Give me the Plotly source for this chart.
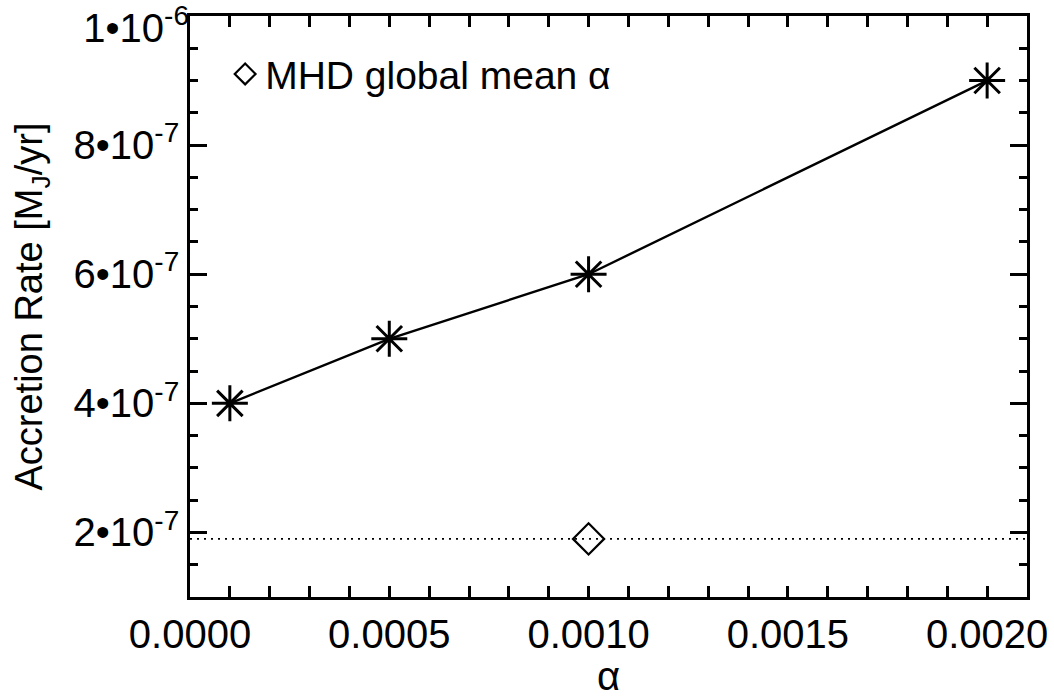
import plotly.graph_objects as go

# Accretion rate as a function of the viscosity parameter alpha
alpha_vals = [0.0001, 0.0005, 0.0010, 0.0020]
accretion_rate = [4.0e-7, 5.0e-7, 6.0e-7, 9.0e-7]

# MHD run: global mean alpha and its accretion rate
mhd_alpha = [0.0010]
mhd_rate = [1.9e-7]

y_tick_vals = [2e-7, 4e-7, 6e-7, 8e-7]
y_tick_text = ["2\u202210<sup>-7</sup>", "4\u202210<sup>-7</sup>", "6\u202210<sup>-7</sup>",
               "8\u202210<sup>-7</sup>"]
# top label sits at the upper frame edge and is nudged down to stay on the page
y_top_val = [1e-6]
y_top_text = ["1\u202210<sup>-6</sup>"]
x_tick_vals = [0.0000, 0.0005, 0.0010, 0.0015, 0.0020]
x_tick_text = ["0.0000", "0.0005", "0.0010", "0.0015", "0.0020"]

Y_RANGE = [1e-7, 1e-6]
FONT = "Liberation Sans, Arial, Helvetica, sans-serif"
BLACK = "black"

fig = go.Figure()

fig.add_trace(go.Scatter(
    x=alpha_vals, y=accretion_rate, mode="lines+markers",
    line=dict(color=BLACK, width=2.4),
    marker=dict(symbol="asterisk-open", size=30, color=BLACK,
                line=dict(color=BLACK, width=3)),
    showlegend=False,
))

# Horizontal dotted reference at the MHD accretion rate
fig.add_hline(y=mhd_rate[0], line=dict(color=BLACK, width=1.8, dash="2px,5px"))

# The MHD point lives on the overlaid twin y axis (identical range)
fig.add_trace(go.Scatter(
    x=mhd_alpha, y=mhd_rate, mode="markers", yaxis="y2",
    name="MHD global mean \u03b1",
    marker=dict(symbol="diamond-open", size=24, color=BLACK,
                line=dict(color=BLACK, width=2.2)),
    showlegend=True,
))

axis_common = dict(
    showline=True, linecolor=BLACK, linewidth=2.5, mirror="allticks",
    ticks="inside", tickcolor=BLACK, tickwidth=2.5,
    showgrid=False, zeroline=False,
    tickfont=dict(family=FONT, size=40, color=BLACK),
)

fig.update_layout(
    xaxis=dict(
        range=[0, 0.0021], tickvals=x_tick_vals, ticktext=x_tick_text, ticklen=11,
        minor=dict(dtick=0.0001, tick0=0, ticks="inside", ticklen=5, tickwidth=2.5,
                   tickcolor=BLACK, showgrid=False),
        title=dict(text="\u03b1", font=dict(family=FONT, size=40, color=BLACK), standoff=13),
        **axis_common,
    ),
    yaxis=dict(
        range=Y_RANGE, tickvals=y_tick_vals, ticktext=y_tick_text, ticklen=17,
        minor=dict(dtick=0.5e-7, tick0=0, ticks="inside", ticklen=8, tickwidth=2.5,
                   tickcolor=BLACK, showgrid=False),
        title=dict(text="Accretion Rate [M<sub>J</sub>/yr]",
                   font=dict(family=FONT, size=38, color=BLACK), standoff=20),
        **axis_common,
    ),
    yaxis2=dict(
        overlaying="y", anchor="x", side="left", range=Y_RANGE,
        tickvals=y_top_val, ticktext=y_top_text, ticks="",
        showline=False, showgrid=False, zeroline=False,
        ticklabelshift=12, ticklabeloverflow="allow", ticklabelstandoff=0,
        tickfont=dict(family=FONT, size=40, color=BLACK),
    ),
    width=1054, height=698,
    margin=dict(l=190, r=27, t=16, b=101, autoexpand=False),
    paper_bgcolor="white", plot_bgcolor="white",
    font=dict(family=FONT, size=38, color=BLACK),
    legend=dict(x=0.042, y=0.955, xanchor="left", yanchor="top",
                bgcolor="rgba(0,0,0,0)", borderwidth=0,
                font=dict(family=FONT, size=39, color=BLACK),
                itemwidth=30),
)

fig.write_html("out.html")
